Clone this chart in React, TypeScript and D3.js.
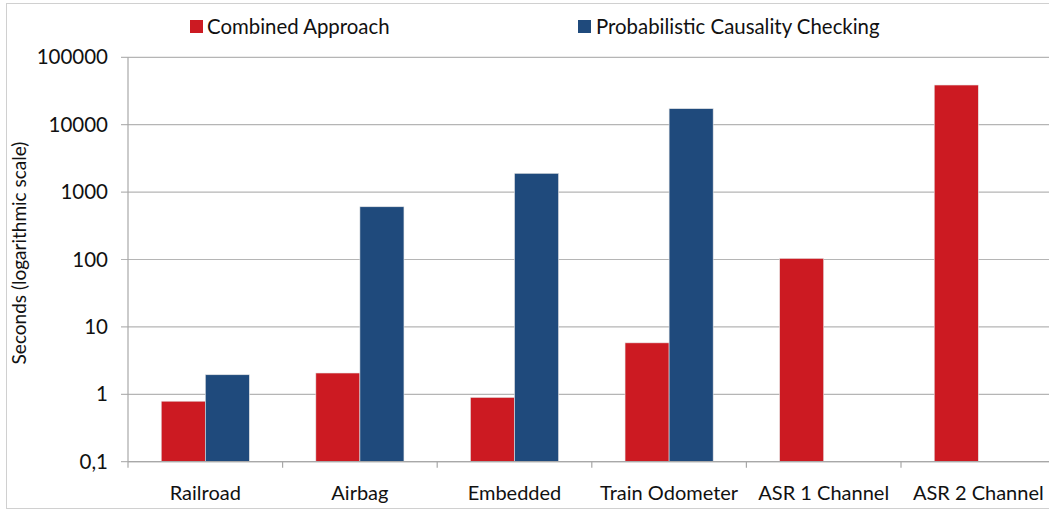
import React from 'react';
import * as d3 from 'd3';

const categories = ['Railroad', 'Airbag', 'Embedded', 'Train Odometer', 'ASR 1 Channel', 'ASR 2 Channel'];
const seriesNames = ['Combined Approach', 'Probabilistic Causality Checking'];
const combined = [0.79, 2.07, 0.9, 5.8, 104, 38800];
const probabilistic: (number | null)[] = [1.95, 606, 1900, 17300, null, null];
const yTicks = [0.1, 1, 10, 100, 1000, 10000, 100000];
const yTickLabels = ['0,1', '1', '10', '100', '1000', '10000', '100000'];
const colors = ['#cc1a22', '#1f4a7c'];

const W = 1049;
const H = 510;
const font = 'Lato, "Open Sans", sans-serif';

export default function App() {
  const left = 128;
  const right = 1055.6;
  const top = 57.3;
  const bottom = 461.7;

  const x0 = d3.scaleBand<string>().domain(categories).range([left, right]).padding(0);
  const bw = x0.bandwidth();
  const x1 = d3.scaleBand<string>().domain(seriesNames).range([bw * 0.215, bw * 0.785]).padding(0);
  const y = d3.scaleLog().domain([0.1, 100000]).range([bottom, top]);

  const values = [combined, probabilistic];

  return (
    <svg width={W} height={H} style={{ position: 'absolute', left: 0, top: 0, background: '#fff' }}>
      <rect x={6.5} y={3.5} width={W + 10} height={505} fill="#fff" stroke="#d0d0d0" />

      {/* gridlines */}
      {yTicks.map((t) => (
        <line key={t} x1={left - 7} x2={right} y1={y(t)} y2={y(t)} stroke="#b5b5b5" strokeWidth={1.2} />
      ))}
      {yTicks.map((t, i) => (
        <text key={'l' + t} x={108} y={y(t)} dy="0.35em" textAnchor="end" fontFamily={font} fontSize={20.5} fill="#111">
          {yTickLabels[i]}
        </text>
      ))}

      {/* bars */}
      {categories.map((c, ci) => (
        <g key={c} transform={`translate(${x0(c)},0)`}>
          {values.map((vals, si) => {
            const v = vals[ci];
            if (v == null) return null;
            return (
              <rect
                key={si}
                x={x1(seriesNames[si])}
                y={y(v)}
                width={x1.bandwidth()}
                height={bottom - y(v)}
                fill={colors[si]}
                stroke="#e6e6e6"
                strokeWidth={0.6}
              />
            );
          })}
        </g>
      ))}

      {/* axes */}
      <line x1={left} x2={left} y1={top} y2={bottom} stroke="#a8a8a8" strokeWidth={1.2} />
      <line x1={left} x2={right} y1={bottom} y2={bottom} stroke="#a8a8a8" strokeWidth={1.2} />
      {categories.map((c) => (
        <line key={'t' + c} x1={x0(c)!} x2={x0(c)!} y1={bottom} y2={bottom + 6} stroke="#a8a8a8" strokeWidth={1.2} />
      ))}
      {categories.map((c) => (
        <text key={'c' + c} x={x0(c)! + bw / 2} y={493} textAnchor="middle" dy="0.35em" fontFamily={font} fontSize={20} fill="#111">
          {c}
        </text>
      ))}

      {/* y title */}
      <text transform="translate(19,253) rotate(-90)" textAnchor="middle" dy="0.35em" fontFamily={font} fontSize={19} fill="#111">
        Seconds (logarithmic scale)
      </text>

      {/* legend */}
      <rect x={190} y={20} width={13} height={13} fill={colors[0]} />
      <text x={207} y={27} dy="0.35em" fontFamily={font} fontSize={20.4} fill="#111">{seriesNames[0]}</text>
      <rect x={578} y={20} width={13} height={13} fill={colors[1]} />
      <text x={596} y={27} dy="0.35em" fontFamily={font} fontSize={20.4} fill="#111">{seriesNames[1]}</text>
    </svg>
  );
}
